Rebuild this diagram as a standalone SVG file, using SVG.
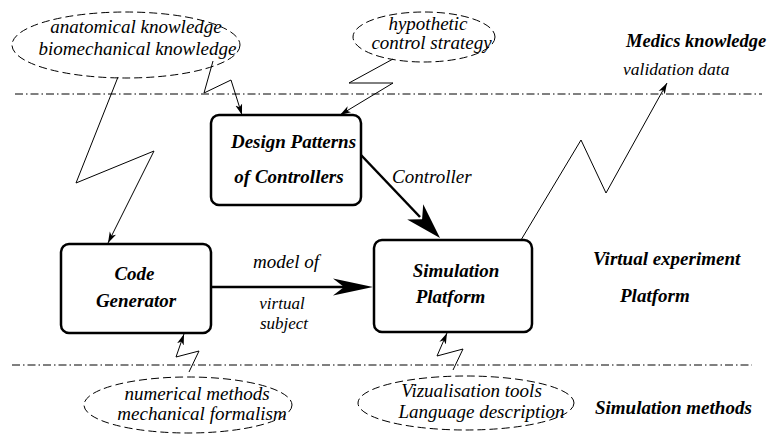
<svg xmlns="http://www.w3.org/2000/svg" width="769" height="434" viewBox="0 0 769 434">
<style>
text{font-family:"Liberation Serif","Times New Roman",serif;font-size:19px;fill:#000;font-style:italic}
.b{font-weight:bold}
.m{text-anchor:middle}
.box{fill:#fff;stroke:#000;stroke-width:2.5}
.ell{fill:none;stroke:#000;stroke-width:1;stroke-dasharray:8 4}
.sep{stroke:#000;stroke-width:1;stroke-dasharray:8 3 1.5 3;fill:none}
.thin{fill:none;stroke:#000;stroke-width:1;marker-end:url(#ah)}
.thick{fill:none;stroke:#000;stroke-width:2.5}
.sm{font-size:17px}
</style>
<defs>
<marker id="ah" markerUnits="userSpaceOnUse" markerWidth="12" markerHeight="8" viewBox="0 0 12 8" refX="11" refY="4" orient="auto">
<path d="M0,0.5 L11,4 L0,7.5 L3,4 z" fill="#000"/>
</marker>
</defs>
<g id="separators">
<line class="sep" x1="15" y1="94" x2="762" y2="94"/>
<line class="sep" x1="12" y1="365" x2="752" y2="365"/>
</g>
<g id="connectors">
<polyline class="thin" points="118,77 76,183 154,151 108,243"/>
<polyline class="thin" points="213,61 204,93 231,80 242,115"/>
<polyline class="thin" points="393,59 349,83 393,83 340,115"/>
<polyline class="thin" points="189,372 199,351 176,357 184,334"/>
<polyline class="thin" points="453,370 463,349 437,356 447,333"/>
<polyline class="thin" points="521,240 581,140 606,193 667,83"/>
<line class="thick" x1="361" y1="155" x2="420" y2="217"/>
<polygon points="440,238 407.2,219.5 422.1,219.2 423.2,204.3" fill="#000"/>
<line class="thick" x1="208" y1="287" x2="345" y2="287"/>
<polygon points="373,287 333,278.5 344,287 333,295.5" fill="#000"/>
</g>
<g id="ellipse-anatomy">
<ellipse class="ell" cx="126" cy="45" rx="114" ry="33"/>
<text class="m" x="136" y="33">anatomical knowledge</text>
<text class="m" x="137.5" y="55">biomechanical knowledge</text>
</g>
<g id="ellipse-control">
<ellipse class="ell" cx="424" cy="37" rx="71" ry="25"/>
<text class="m" x="428" y="30">hypothetic</text>
<text class="m" x="431.5" y="49">control strategy</text>
</g>
<g id="ellipse-numerical">
<ellipse class="ell" cx="188" cy="405" rx="104" ry="28"/>
<text class="m" x="197" y="400">numerical methods</text>
<text class="m" x="202" y="420">mechanical formalism</text>
</g>
<g id="ellipse-visual">
<ellipse class="ell" cx="466" cy="403" rx="108" ry="27"/>
<text class="m" x="471.5" y="397">Vizualisation tools</text>
<text class="m" x="481.5" y="418">Language description</text>
</g>
<g id="node-design">
<rect class="box" x="211" y="115" width="150" height="90" rx="8"/>
<text class="b m" x="293.5" y="148">Design Patterns</text>
<text class="b m" x="289" y="183">of Controllers</text>
</g>
<g id="node-code">
<rect class="box" x="61" y="244" width="150" height="89" rx="8"/>
<text class="b m" x="134.5" y="280">Code</text>
<text class="b m" x="136" y="307">Generator</text>
</g>
<g id="node-sim">
<rect class="box" x="374" y="240" width="158" height="92" rx="8"/>
<text class="b m" x="456" y="277">Simulation</text>
<text class="b m" x="450.5" y="303">Platform</text>
</g>
<g id="labels">
<text x="392" y="183">Controller</text>
<text class="m" x="286" y="268">model of</text>
<text class="m sm" x="282" y="309">virtual</text>
<text class="m sm" x="284" y="329">subject</text>
<text class="b" x="626" y="47" style="font-size:18.5px">Medics knowledge</text>
<text x="623" y="75" style="font-size:17.5px">validation data</text>
<text class="b" x="593" y="265">Virtual experiment</text>
<text class="b" x="620" y="302">Platform</text>
<text class="b" x="595" y="414">Simulation methods</text>
</g>
</svg>
